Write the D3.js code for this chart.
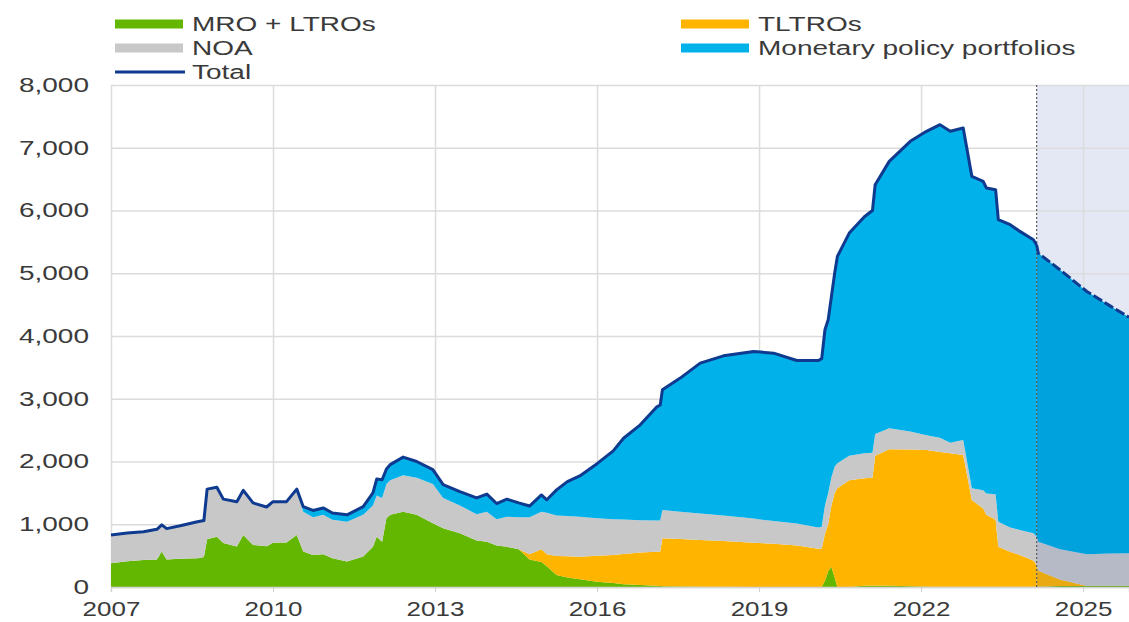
<!DOCTYPE html>
<html>
<head>
<meta charset="utf-8">
<script src="https://cdn.jsdelivr.net/npm/d3@7"></script>
<style>
  body { margin: 0; background: #fff; }
  svg text { font-family: "Liberation Sans", Arial, sans-serif; fill: #3a3a3a; }
</style>
</head>
<body>
<div id="chart"></div>
<script>
// Data (EUR billions), dates as decimal years
var dates = [2007.00,2007.30,2007.60,2007.85,2007.94,2008.03,2008.28,2008.60,2008.72,2008.78,
	2008.96,2009.08,2009.33,2009.45,2009.63,2009.88,2010.00,2010.25,2010.44,2010.56,
	2010.74,2010.93,2011.10,2011.37,2011.67,2011.85,2011.92,2012.02,2012.10,2012.17,
	2012.41,2012.66,2012.96,2013.15,2013.46,2013.77,2013.96,2014.14,2014.33,2014.55,
	2014.75,2014.97,2015.07,2015.25,2015.45,2015.68,2016.00,2016.30,2016.49,2016.80,
	2017.10,2017.17,2017.21,2017.54,2017.91,2018.34,2018.90,2019.27,2019.70,2020.10,
	2020.16,2020.22,2020.28,2020.34,2020.40,2020.45,2020.67,2020.95,2021.10,2021.15,
	2021.41,2021.80,2022.10,2022.35,2022.54,2022.78,2022.94,2023.15,2023.21,2023.38,
	2023.43,2023.65,2023.83,2024.08,2024.14,2024.17,2024.57,2025.07,2025.50,2025.85];

var mroLtro = [380,410,430,440,565,440,450,460,480,760,
	800,700,645,830,670,650,707,710,830,565,
	510,520,460,405,485,640,800,720,1095,1150,
	1200,1150,1015,935,855,740,720,660,640,600,
	440,400,330,190,150,122,85,64,45,30,
	20,15,12,8,5,3,2,2,2,2,
	0,100,250,320,150,0,0,20,20,20,
	20,10,5,5,5,5,5,5,5,5,
	5,5,5,5,5,5,15,15,15,15];

var tltro = [0,0,0,0,0,0,0,0,0,0,
	0,0,0,0,0,0,0,0,0,0,
	0,0,0,0,0,0,0,0,0,0,
	0,0,0,0,0,0,0,0,0,0,
	80,200,190,305,340,362,415,446,480,520,
	543,550,764,757,745,732,703,688,658,608,
	615,750,750,980,1350,1574,1700,1713,1720,2070,
	2175,2180,2180,2145,2125,2100,1383,1245,1145,1065,
	635,555,505,415,345,255,105,0,0,0];

var noa = [450,450,450,480,425,490,525,580,580,800,
	790,700,715,710,670,625,653,650,700,635,
	600,630,610,635,665,660,660,700,545,550,
	580,590,625,485,445,420,480,420,480,510,
	590,600,665,645,640,636,595,570,550,515,
	495,493,452,435,420,405,385,360,350,340,
	345,450,500,450,420,398,390,399,400,350,
	335,290,235,230,170,239,186,290,340,410,
	400,390,400,436,450,460,480,505,520,522];

var mpp = [0,0,0,0,0,0,0,0,0,0,
	0,0,0,0,0,0,0,0,30,80,
	110,110,110,110,130,200,260,290,240,250,
	290,260,230,210,220,260,280,250,280,230,
	180,267,205,407,550,650,870,1090,1295,1519,
	1808,1842,1914,2129,2398,2544,2663,2677,2600,2660,
	2680,2800,2758,2880,3080,3296,3550,3768,3860,3971,
	4253,4622,4842,4988,4962,4971,4970,4924,4869,4852,
	4813,4824,4757,4678,4650,4601,4456,4190,3945,3763];

var projectionStart = 2024.14;
var yearTicks = [2007, 2010, 2013, 2016, 2019, 2022, 2025];
var valueTicks = [0, 1000, 2000, 3000, 4000, 5000, 6000, 7000, 8000];

var keys = ["mro", "tltro", "noa", "mpp"];
var colors = { mro: "#64b700", tltro: "#ffb400", noa: "#c8c8c8", mpp: "#00b1ea" };
var projColors = { mro: "#5aa600", tltro: "#e8a912", noa: "#b6bac6", mpp: "#00a2de" };
var totalColor = "#0e3a8f";

var legendItems = [
	{ name: "MRO + LTROs", color: colors.mro, type: "area", col: 0, row: 0 },
	{ name: "NOA", color: colors.noa, type: "area", col: 0, row: 1 },
	{ name: "Total", color: totalColor, type: "line", col: 0, row: 2 },
	{ name: "TLTROs", color: colors.tltro, type: "area", col: 1, row: 0 },
	{ name: "Monetary policy portfolios", color: colors.mpp, type: "area", col: 1, row: 1 }
];

// Layout
var W = 1129, H = 622;
var margin = { left: 111, right: 0, top: 85, bottom: 35 };
var width = W - margin.left - margin.right;
var height = H - margin.top - margin.bottom;
var textStretch = 1.4;   // the original text is drawn wide

var svg = d3.select("#chart").append("svg")
	.attr("width", W)
	.attr("height", H);
var g = svg.append("g")
	.attr("transform", "translate(" + margin.left + "," + margin.top + ")");

var x = d3.scaleLinear().domain([2007, 2025.85]).range([0, width]);
var y = d3.scaleLinear().domain([0, 8000]).range([height, 0]);

var rows = dates.map(function(d, i) {
	return { date: d, mro: mroLtro[i], tltro: tltro[i], noa: noa[i], mpp: mpp[i] };
});
var stacked = d3.stack().keys(keys)(rows);

// projection background
g.append("rect")
	.attr("x", x(projectionStart))
	.attr("y", 0)
	.attr("width", width - x(projectionStart))
	.attr("height", height)
	.attr("fill", "#e4e8f4");

// gridlines
g.append("g")
	.attr("class", "yGrid")
	.call(d3.axisLeft(y).tickValues(valueTicks).tickSize(-width).tickFormat(""))
	.call(function(s) {
		s.select(".domain").remove();
		s.selectAll("line").attr("stroke", "#dcdcdc").attr("stroke-width", 1.5);
	});
g.append("g")
	.attr("class", "xGrid")
	.call(d3.axisTop(x).tickValues(yearTicks).tickSize(-height).tickFormat(""))
	.call(function(s) {
		s.select(".domain").remove();
		s.selectAll("line").attr("stroke", "#dcdcdc").attr("stroke-width", 1.5);
	});

// clip paths for history / projection
var defs = svg.append("defs");
defs.append("clipPath").attr("id", "histClip").append("rect")
	.attr("x", 0).attr("y", -5).attr("width", x(projectionStart)).attr("height", height + 10);
defs.append("clipPath").attr("id", "projClip").append("rect")
	.attr("x", x(projectionStart)).attr("y", -5).attr("width", width - x(projectionStart)).attr("height", height + 10);

var area = d3.area()
	.x(function(d) { return x(d.data.date); })
	.y0(function(d) { return y(d[0]); })
	.y1(function(d) { return y(d[1]); });

g.append("g").attr("clip-path", "url(#histClip)")
	.selectAll("path").data(stacked).enter().append("path")
	.attr("d", area)
	.attr("fill", function(d) { return colors[d.key]; });
g.append("g").attr("clip-path", "url(#projClip)")
	.selectAll("path").data(stacked).enter().append("path")
	.attr("d", area)
	.attr("fill", function(d) { return projColors[d.key]; });

// x axis
g.append("g")
	.attr("class", "xAxis")
	.attr("transform", "translate(0," + height + ")")
	.call(d3.axisBottom(x).tickValues(yearTicks).tickFormat(d3.format("d")).tickSize(5))
	.call(function(s) {
		s.select(".domain").attr("stroke", "#d4d4d4").attr("stroke-width", 1.5);
		s.selectAll("line").attr("stroke", "#cfcfcf");
		s.selectAll("text")
			.attr("font-size", "20px")
			.attr("fill", "#3a3a3a")
			.attr("y", 15)
			.attr("transform", "scale(1.3,1)");
	});

// y axis labels
g.append("g")
	.attr("class", "yAxis")
	.call(d3.axisLeft(y).tickValues(valueTicks).tickFormat(d3.format(",")).tickSize(0))
	.call(function(s) {
		s.select(".domain").remove();
		s.selectAll("text")
			.attr("font-size", "20px")
			.attr("fill", "#3a3a3a")
			.attr("x", -22 / textStretch)
			.attr("transform", "scale(" + textStretch + ",1)");
	});

// projection marker
g.append("line")
	.attr("x1", x(projectionStart)).attr("x2", x(projectionStart))
	.attr("y1", 0).attr("y2", height)
	.attr("stroke", "#5a5a5a")
	.attr("stroke-width", 1.2)
	.attr("stroke-dasharray", "2,2");

// total line
var topLayer = stacked[stacked.length - 1];
var line = d3.line()
	.x(function(d) { return x(d.data.date); })
	.y(function(d) { return y(d[1]); });
g.append("path")
	.datum(topLayer.filter(function(d) { return d.data.date <= projectionStart; }))
	.attr("d", line)
	.attr("fill", "none")
	.attr("stroke", totalColor)
	.attr("stroke-width", 3)
	.attr("stroke-linejoin", "round");
g.append("path")
	.datum(topLayer.filter(function(d) { return d.data.date >= projectionStart; }))
	.attr("d", line)
	.attr("fill", "none")
	.attr("stroke", totalColor)
	.attr("stroke-width", 3)
	.attr("stroke-dasharray", "10,3");

// legend
var legendCols = [115, 681];
var legend = svg.append("g").attr("class", "legend");
var items = legend.selectAll("g").data(legendItems).enter().append("g")
	.attr("transform", function(d) { return "translate(" + legendCols[d.col] + "," + (24 + d.row * 24) + ")"; });
items.filter(function(d) { return d.type === "area"; })
	.append("rect")
	.attr("x", 0).attr("y", -4.5)
	.attr("width", 68).attr("height", 9)
	.attr("fill", function(d) { return d.color; });
items.filter(function(d) { return d.type === "line"; })
	.append("line")
	.attr("x1", 0).attr("x2", 70)
	.attr("y1", 0).attr("y2", 0)
	.attr("stroke", function(d) { return d.color; })
	.attr("stroke-width", 3);
items.append("text")
	.attr("x", 77 / textStretch)
	.attr("y", 7)
	.attr("font-size", "20px")
	.attr("transform", "scale(" + textStretch + ",1)")
	.text(function(d) { return d.name; });
</script>
</body>
</html>
